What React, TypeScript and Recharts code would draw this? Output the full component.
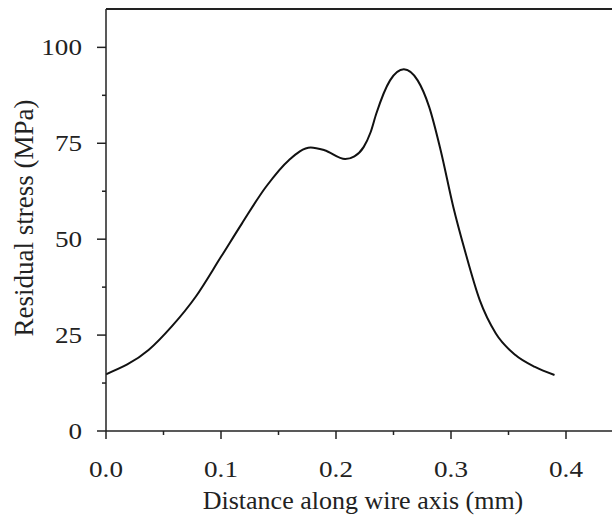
import React from 'react';
import { LineChart, Line, XAxis, YAxis, ReferenceLine } from 'recharts';

const distance = [0, 0.037, 0.057, 0.078, 0.1, 0.118, 0.139, 0.159, 0.178, 0.19, 0.208, 0.216, 0.224, 0.23, 0.235, 0.247, 0.259, 0.271, 0.281, 0.291, 0.302, 0.312, 0.325, 0.339, 0.356, 0.373, 0.39];
const stress = [14.8, 21.1, 27.2, 35, 45.4, 54, 63.6, 70.6, 73.9, 73.2, 70.9, 71.6, 74.0, 77.8, 82.7, 91.4, 94.3, 91.4, 84.5, 73.2, 58.4, 47.1, 34.1, 25.4, 19.8, 16.7, 14.6];

const xTicks = [0, 0.05, 0.1, 0.15, 0.2, 0.25, 0.3, 0.35, 0.4];
const xMajor = [0, 0.1, 0.2, 0.3, 0.4];
const yTicks = [0, 12.5, 25, 37.5, 50, 62.5, 75, 87.5, 100];
const yMajor = [0, 25, 50, 75, 100];

const data = distance.map((d, i) => ({ d, s: stress[i] }));

const font = '"Liberation Serif", "Times New Roman", serif';
const ink = '#222';

// tick labels in the source look a bit stretched sideways
const StretchText = ({ x, y, anchor, children }: any) => (
  <text
    transform={`translate(${x},${y}) scale(1.18,1)`}
    x={0}
    y={0}
    textAnchor={anchor}
    fontSize={23}
    fontFamily={font}
    fill={ink}
  >
    {children}
  </text>
);

const XTick = (props: any) => {
  const { x, y, payload } = props;
  const major = xMajor.some((m) => Math.abs(m - payload.value) < 1e-6);
  return (
    <g>
      <line x1={x} x2={x} y1={y} y2={y + (major ? 8 : 4)} stroke={ink} strokeWidth={1.5} />
      {major && (
        <StretchText x={x} y={y + 46} anchor="middle">
          {payload.value.toFixed(1)}
        </StretchText>
      )}
    </g>
  );
};

const YTick = (props: any) => {
  const { x, y, payload } = props;
  const major = yMajor.includes(payload.value);
  return (
    <g>
      <line x1={x - (major ? 9 : 4)} x2={x} y1={y} y2={y} stroke={ink} strokeWidth={1.5} />
      {major && (
        <StretchText x={x - 24} y={y + 8} anchor="end">
          {payload.value}
        </StretchText>
      )}
    </g>
  );
};

export default function App() {
  return (
    <div style={{ position: 'absolute', left: 0, top: 0, background: '#fff' }}>
      <LineChart width={612} height={524} data={data} margin={{ top: 9, right: 0, bottom: 0, left: 0 }}>
        <XAxis
          dataKey="d"
          type="number"
          domain={[0, 0.44]}
          allowDataOverflow
          ticks={xTicks}
          interval={0}
          tickSize={0}
          tickMargin={0}
          tick={<XTick />}
          height={93}
          axisLine={{ stroke: ink, strokeWidth: 1.5 }}
          label={{
            content: (p: any) => {
              const vb = p.viewBox;
              return (
                <text x={vb.x + vb.width / 2 + 4} y={vb.y + 78} textAnchor="middle" fontSize={26} fontFamily={font} fill={ink}>
                  Distance along wire axis (mm)
                </text>
              );
            },
          }}
        />
        <YAxis
          type="number"
          domain={[0, 110]}
          allowDataOverflow
          ticks={yTicks}
          interval={0}
          tickSize={0}
          tickMargin={0}
          tick={<YTick />}
          width={106}
          axisLine={{ stroke: ink, strokeWidth: 1.5 }}
          label={{
            content: (p: any) => {
              const vb = p.viewBox;
              const cx = 33;
              const cy = vb.y + vb.height / 2 - 2;
              return (
                <text x={cx} y={cy} transform={`rotate(-90, ${cx}, ${cy})`} textAnchor="middle" fontSize={27} fontFamily={font} fill={ink}>
                  Residual stress (MPa)
                </text>
              );
            },
          }}
        />
        <ReferenceLine y={110} stroke={ink} strokeWidth={2} ifOverflow="extendDomain" />
        <Line
          type="monotone"
          dataKey="s"
          stroke="#111"
          strokeWidth={2}
          dot={false}
          isAnimationActive={false}
        />
      </LineChart>
    </div>
  );
}
